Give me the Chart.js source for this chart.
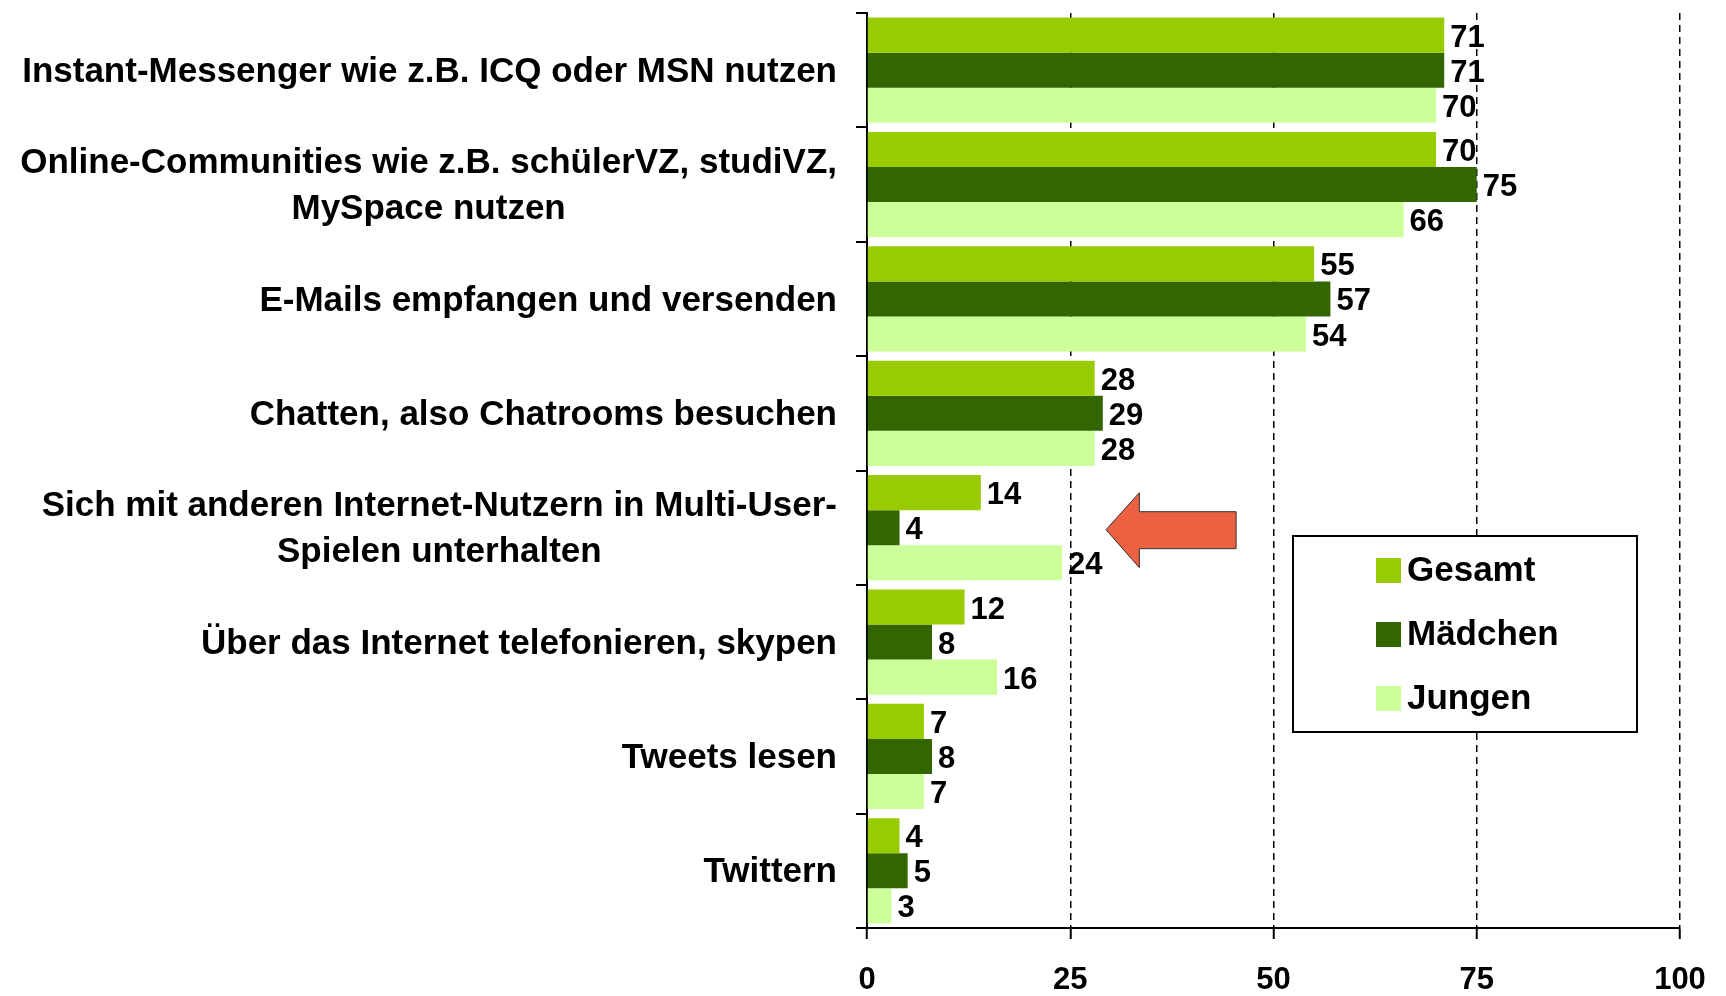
<!DOCTYPE html>
<html>
<head>
<meta charset="utf-8">
<script src="https://cdn.jsdelivr.net/npm/chart.js@4"></script>
<style>
  html, body { margin: 0; background: #fff; }
  #wrap { width: 1726px; height: 996px; }
</style>
</head>
<body>
<div id="wrap"><canvas id="chart"></canvas></div>
<script>
const categories = [
  ['Instant-Messenger wie z.B. ICQ oder MSN nutzen'],
  ['Online-Communities wie z.B. schülerVZ, studiVZ,', 'MySpace nutzen'],
  ['E-Mails empfangen und versenden'],
  ['Chatten, also Chatrooms besuchen'],
  ['Sich mit anderen Internet-Nutzern in Multi-User-', 'Spielen unterhalten'],
  ['Über das Internet telefonieren, skypen'],
  ['Tweets lesen'],
  ['Twittern']
];
const seriesNames = ['Gesamt', 'Mädchen', 'Jungen'];
const gesamt = [71, 70, 55, 28, 14, 12, 7, 4];
const maedchen = [71, 75, 57, 29, 4, 8, 8, 5];
const jungen = [70, 66, 54, 28, 24, 16, 7, 3];
const xTicks = [0, 25, 50, 75, 100];
const colors = ['#99cc00', '#336600', '#ccff99'];

const FONT = '"Liberation Sans", Arial, sans-serif';

// category labels: block right aligned, lines centred inside the block
const yLabels = {
  id: 'yLabels',
  afterDraw(chart) {
    const ctx = chart.ctx, y = chart.scales.y;
    const right = chart.chartArea.left - 30;
    ctx.save();
    ctx.font = 'bold 35px ' + FONT;
    ctx.fillStyle = '#000';
    ctx.textAlign = 'center';
    ctx.textBaseline = 'middle';
    categories.forEach((lines, i) => {
      const w = Math.max(...lines.map(l => ctx.measureText(l).width));
      const cx = right - w / 2;
      const cy = y.getPixelForTick(i) + 2;
      lines.forEach((l, j) => {
        ctx.fillText(l, cx, cy + (j - (lines.length - 1) / 2) * 46);
      });
    });
    ctx.restore();
  }
};

// value labels after each bar
const valueLabels = {
  id: 'valueLabels',
  afterDatasetsDraw(chart) {
    const ctx = chart.ctx;
    ctx.save();
    ctx.font = 'bold 31px ' + FONT;
    ctx.fillStyle = '#000';
    ctx.textAlign = 'left';
    ctx.textBaseline = 'middle';
    chart.data.datasets.forEach((ds, di) => {
      chart.getDatasetMeta(di).data.forEach((bar, i) => {
        ctx.fillText(ds.data[i], bar.x + 6, bar.y + 3);
      });
    });
    ctx.restore();
  }
};

// arrow pointing at the multi-user games row
const arrow = {
  id: 'arrow',
  afterDatasetsDraw(chart) {
    const ctx = chart.ctx, x = chart.scales.x, y = chart.scales.y;
    const tip = x.getPixelForValue(29.4);
    const neck = x.getPixelForValue(33.5);
    const tail = x.getPixelForValue(45.4);
    const cy = y.getPixelForValue(4) + 2;
    ctx.save();
    ctx.beginPath();
    ctx.moveTo(tip, cy);
    ctx.lineTo(neck, cy - 37);
    ctx.lineTo(neck, cy - 18);
    ctx.lineTo(tail, cy - 18);
    ctx.lineTo(tail, cy + 19);
    ctx.lineTo(neck, cy + 19);
    ctx.lineTo(neck, cy + 38);
    ctx.closePath();
    ctx.fillStyle = '#eb6141';
    ctx.fill();
    ctx.lineWidth = 1;
    ctx.strokeStyle = '#333';
    ctx.stroke();
    ctx.restore();
  }
};

// boxed legend inside the plot
const boxLegend = {
  id: 'boxLegend',
  afterDraw(chart) {
    const ctx = chart.ctx;
    ctx.save();
    ctx.fillStyle = '#fff';
    ctx.fillRect(1293, 536, 344, 196);
    ctx.lineWidth = 2;
    ctx.strokeStyle = '#000';
    ctx.strokeRect(1293, 536, 344, 196);
    ctx.font = 'bold 35px ' + FONT;
    ctx.textBaseline = 'middle';
    chart.data.datasets.forEach((ds, i) => {
      const cy = 570 + i * 64;
      ctx.fillStyle = ds.backgroundColor;
      ctx.fillRect(1376, cy - 12, 25, 25);
      ctx.fillStyle = '#000';
      ctx.fillText(ds.label, 1407, cy + 1);
    });
    ctx.restore();
  }
};

new Chart(document.getElementById('chart'), {
  type: 'bar',
  data: {
    labels: categories,
    datasets: [
      { label: seriesNames[0], data: gesamt, backgroundColor: colors[0] },
      { label: seriesNames[1], data: maedchen, backgroundColor: colors[1] },
      { label: seriesNames[2], data: jungen, backgroundColor: colors[2] }
    ]
  },
  options: {
    indexAxis: 'y',
    responsive: true,
    maintainAspectRatio: false,
    animation: false,
    categoryPercentage: 0.92,
    barPercentage: 1,
    layout: { padding: { top: 13, right: 46, left: 0, bottom: 0 } },
    plugins: { legend: { display: false }, tooltip: { enabled: false } },
    scales: {
      x: {
        min: 0,
        max: 100,
        afterBuildTicks: s => { s.ticks = xTicks.map(v => ({ value: v })); },
        afterFit: s => { s.height = 68; s.paddingLeft = 0; s.paddingRight = 0; },
        ticks: { color: '#000', padding: 23, font: { family: FONT, size: 31, weight: 'bold' } },
        grid: {
          color: c => (c.tick && c.tick.value === 0 ? 'rgba(0,0,0,0)' : '#000'),
          lineWidth: 1.5,
          tickColor: '#000',
          tickWidth: 2,
          tickLength: 11
        },
        border: { color: '#000', width: 2, dash: [7, 5] }
      },
      y: {
        afterFit: s => { s.width = 867; },
        ticks: { display: false },
        grid: {
          drawOnChartArea: false,
          offset: true,
          color: '#000',
          lineWidth: 2,
          tickLength: 11
        },
        border: { color: '#000', width: 2 }
      }
    }
  },
  plugins: [yLabels, valueLabels, arrow, boxLegend]
});
</script>
</body>
</html>
